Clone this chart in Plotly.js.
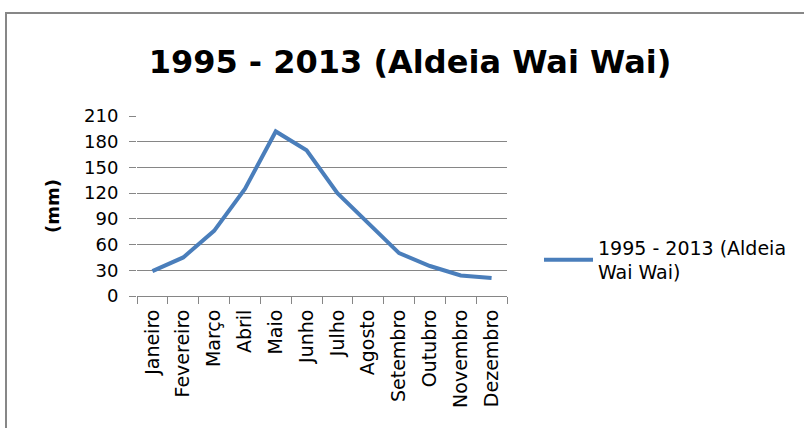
<!DOCTYPE html>
<html>
<head>
<meta charset="utf-8">
<script src="https://cdn.plot.ly/plotly-3.0.1.min.js"></script>
<style>
html,body{margin:0;padding:0;background:#fff;}
#chart{width:804px;height:428px;}
</style>
</head>
<body>
<div id="chart"></div>
<script>
const months = ["Janeiro","Fevereiro","Março","Abril","Maio","Junho","Julho","Agosto","Setembro","Outubro","Novembro","Dezembro"];
const precip = [29, 45, 76, 125, 192, 170, 120, 85, 50, 35, 24, 21];
const yTicks = [0, 30, 60, 90, 120, 150, 180, 210];
const seriesName = "1995 - 2013 (Aldeia<br>Wai Wai)";
const chartTitle = "1995 - 2013 (Aldeia Wai Wai)";

const FONT = "DejaVu Sans, sans-serif";

const trace = {
  x: months,
  y: precip,
  type: "scatter",
  mode: "lines",
  name: seriesName,
  line: {color: "#4A7EBB", width: 4}
};

const layout = {
  width: 804,
  height: 428,
  margin: {l: 137, r: 297, t: 116, b: 132},
  paper_bgcolor: "#ffffff",
  plot_bgcolor: "#ffffff",
  showlegend: true,
  title: {
    text: "<b>" + chartTitle + "</b>",
    font: {family: FONT, size: 32, color: "#000000"},
    x: 410/804, xref: "container", xanchor: "center",
    y: 1 - 62/428, yref: "container", yanchor: "middle"
  },
  xaxis: {
    type: "category",
    range: [-0.5, months.length - 0.5],
    tickangle: -90,
    tickson: "boundaries",
    ticks: "outside",
    ticklen: 7,
    tickcolor: "#868686",
    ticklabelstandoff: 5,
    showline: true,
    linecolor: "#868686",
    linewidth: 1,
    showgrid: false,
    zeroline: false,
    tickfont: {family: FONT, size: 19, color: "#000000"},
    fixedrange: true
  },
  yaxis: {
    range: [0, 210],
    tickvals: yTicks,
    ticktext: yTicks.map(String),
    ticks: "outside",
    ticklen: 7,
    tickcolor: "#868686",
    ticklabelstandoff: 7,
    showline: false,
    showgrid: true,
    gridcolor: "#868686",
    gridwidth: 1,
    zeroline: false,
    tickfont: {family: FONT, size: 18, color: "#000000"},
    title: {text: "<b>(mm)</b>", font: {family: FONT, size: 18, color: "#000000"}, standoff: 19},
    fixedrange: true
  },
  legend: {
    xref: "container", yref: "container",
    x: 539/804, xanchor: "left",
    y: 1 - 260/428, yanchor: "middle",
    itemwidth: 49,
    font: {family: FONT, size: 19, color: "#000000"},
    bgcolor: "rgba(0,0,0,0)",
    borderwidth: 0
  },
  shapes: [{
    type: "rect", xref: "paper", yref: "paper",
    x0: (6 - 137) / 370, x1: 2.5,
    y0: -1.2, y1: (296 - 13) / 180,
    line: {color: "#878787", width: 2},
    fillcolor: "rgba(0,0,0,0)",
    layer: "below"
  }]
};

Plotly.newPlot("chart", [trace], layout, {displayModeBar: false, staticPlot: true});
</script>
</body>
</html>
